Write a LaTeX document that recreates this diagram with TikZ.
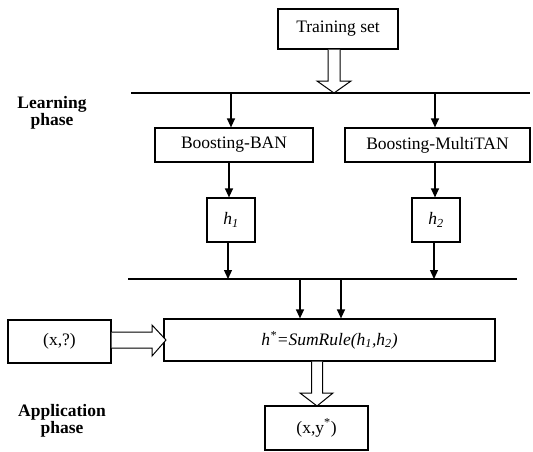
\documentclass[tikz,border=0pt]{standalone}
\usepackage{fontspec}
\setmainfont{Liberation Serif}
\usetikzlibrary{arrows.meta,calc}
\begin{document}
\begin{tikzpicture}[x=1pt,y=-1pt,
  every node/.style={font=\fontsize{17.5}{20}\selectfont},
  box/.style={draw,line width=1.2pt,inner sep=0pt,align=center},
  arr/.style={line width=1.2pt,-{Triangle[width=8pt,length=9pt]}},
  bus/.style={line width=1.2pt},
  hollow/.style={draw,line width=1pt,fill=white},
  phase/.style={align=center,font=\fontsize{17.5}{17}\selectfont\bfseries}]
\useasboundingbox (0,0) rectangle (533,451);
% boxes
\node[box,minimum width=120pt,minimum height=40pt] (ts) at (338,29) {Training set};
\node[box,minimum width=158pt,minimum height=34pt] (ban) at (234,145) {Boosting-BAN};
\node[box,minimum width=185pt,minimum height=34pt] (mtan) at (437.5,145) {Boosting-MultiTAN};
\node[box,minimum width=48pt,minimum height=44pt] (h1) at (231,220) {\itshape h\textsubscript{1}};
\node[box,minimum width=48pt,minimum height=44pt] (h2) at (436,220) {\itshape h\textsubscript{2}};
\node[box,minimum width=331pt,minimum height=42pt] (sum) at (329.5,340) {\itshape h\textsuperscript{*}=SumRule(h\textsubscript{1},h\textsubscript{2})};
\node[box,minimum width=103pt,minimum height=43pt] (xq) at (59.5,341.5) {(x,?)};
\node[box,minimum width=103pt,minimum height=44pt] (xy) at (316.5,428) {(x,y\textsuperscript{*})};
% labels
\node[phase] (lp) at (52,113) {Learning\\phase};
\node[phase] (ap) at (62,421) {Application\\phase};
% bus lines
\coordinate (b1l) at (131,93);
\coordinate (b1r) at (530,93);
\coordinate (b2l) at (128,279);
\coordinate (b2r) at (517,279);
\draw[bus] (b1l) -- (b1r);
\draw[bus] (b2l) -- (b2r);
% arrows
\coordinate (a1) at (231,93);
\coordinate (a2) at (435,93);
\draw[arr] (a1) -- (a1 |- ban.north);
\draw[arr] (a2) -- (a2 |- mtan.north);
\coordinate (a3) at (229,162);
\coordinate (a4) at (435,162);
\draw[arr] (ban.south -| a3) -- (a3 |- h1.north);
\draw[arr] (mtan.south -| a4) -- (a4 |- h2.north);
\coordinate (a5) at (228,279);
\coordinate (a6) at (434,279);
\draw[arr] (h1.south -| a5) -- (a5);
\draw[arr] (h2.south -| a6) -- (a6);
\coordinate (a7) at (300,279);
\coordinate (a8) at (341,279);
\draw[arr] (a7) -- (a7 |- sum.north);
\draw[arr] (a8) -- (a8 |- sum.north);
% hollow arrows
\coordinate (t1) at (334,93);
\draw[hollow] ($(t1 |- ts.south)+(-6,0)$) -- ($(t1)+(-6,-12)$) -- ($(t1)+(-17,-12)$) -- (t1)
  -- ($(t1)+(17,-12)$) -- ($(t1)+(6,-12)$) -- ($(t1 |- ts.south)+(6,0)$);
\coordinate (t2) at (166,340);
\draw[hollow] ($(xq.east |- t2)+(0,-8)$) -- ($(t2)+(-14,-8)$) -- ($(t2)+(-14,-15)$) -- (t2)
  -- ($(t2)+(-14,16)$) -- ($(t2)+(-14,8)$) -- ($(xq.east |- t2)+(0,8)$);
\coordinate (t3) at (317,406);
\draw[hollow] ($(t3 |- sum.south)+(-5.5,0)$) -- ($(t3)+(-5.5,-13)$) -- ($(t3)+(-17,-13)$) -- (t3)
  -- ($(t3)+(16,-13)$) -- ($(t3)+(5.5,-13)$) -- ($(t3 |- sum.south)+(5.5,0)$);
\end{tikzpicture}
\end{document}
